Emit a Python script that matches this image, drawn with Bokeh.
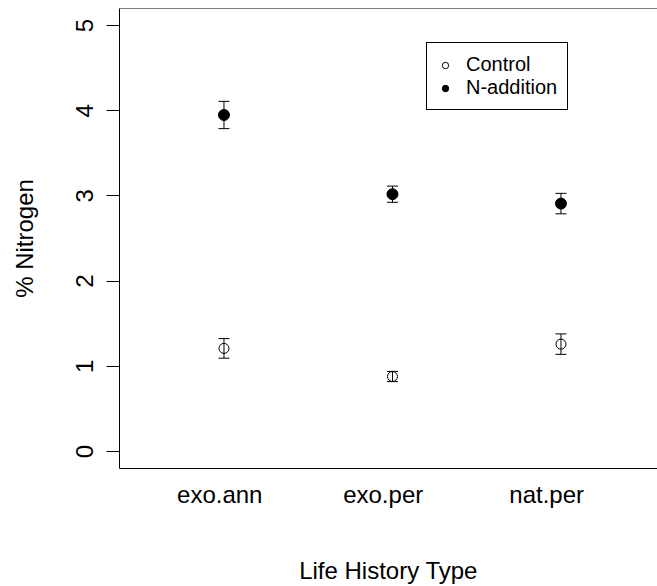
from bokeh.plotting import figure
from bokeh.models import (ColumnDataSource, Range1d, FixedTicker, Whisker, TeeHead,
                          Legend, LegendItem, Span)
from bokeh.embed import file_html
from bokeh.resources import INLINE

# ---- data ----
categories = ["exo.ann", "exo.per", "nat.per"]
control_mean = [1.21, 0.88, 1.26]
control_se = [0.115, 0.06, 0.12]
nadd_mean = [3.95, 3.02, 2.91]
nadd_se = [0.16, 0.095, 0.12]
y_ticks = [0, 1, 2, 3, 4, 5]
series_names = ["Control", "N-addition"]

FONT = "Liberation Sans"
xpos = list(range(1, len(categories) + 1))


def make_source(mean, se):
    return ColumnDataSource(dict(
        x=xpos, y=mean,
        lower=[m - s for m, s in zip(mean, se)],
        upper=[m + s for m, s in zip(mean, se)],
    ))


src_c = make_source(control_mean, control_se)
src_n = make_source(nadd_mean, nadd_se)

y_lo, y_hi = -0.2, 5.2
x_lo = 0.38
x_hi = x_lo + 538 / 168.5

p = figure(width=657, height=586,
           x_range=Range1d(x_lo, x_hi), y_range=Range1d(y_lo, y_hi),
           output_backend="svg", toolbar_location=None,
           min_border_left=119, min_border_right=0,
           min_border_top=8, min_border_bottom=118)
p.outline_line_color = None
p.grid.visible = False
p.background_fill_color = "white"
p.border_fill_color = "white"

# top frame line
p.add_layout(Span(location=y_hi, dimension="width", line_color="black", line_width=1))

# x axis
label_shift = [-0.025, -0.055, -0.085]
label_x = [xv + d for xv, d in zip(xpos, label_shift)]
xa = p.xaxis[0]
xa.ticker = FixedTicker(ticks=label_x)
xa.major_label_overrides = {lx: c for lx, c in zip(label_x, categories)}
xa.major_tick_out = 0
xa.major_tick_in = 0
xa.minor_tick_out = 0
xa.minor_tick_in = 0
xa.axis_line_color = "black"
xa.major_label_standoff = 12
xa.major_label_text_font = FONT
xa.major_label_text_font_size = "24px"
xa.major_label_text_color = "black"
xa.axis_label = "Life History Type"
xa.axis_label_text_font = FONT
xa.axis_label_text_font_size = "24px"
xa.axis_label_text_font_style = "normal"
xa.axis_label_text_color = "black"
xa.axis_label_standoff = 46

# y axis
ya = p.yaxis[0]
ya.ticker = FixedTicker(ticks=y_ticks)
ya.major_label_orientation = "vertical"
ya.major_tick_out = 13
ya.major_tick_in = 0
ya.minor_tick_out = 0
ya.minor_tick_in = 0
ya.major_tick_line_color = "black"
ya.axis_line_color = "black"
ya.major_label_standoff = 13
ya.major_label_text_font = FONT
ya.major_label_text_font_size = "24px"
ya.major_label_text_color = "black"
ya.axis_label = "% Nitrogen"
ya.axis_label_text_font = FONT
ya.axis_label_text_font_size = "24px"
ya.axis_label_text_font_style = "normal"
ya.axis_label_text_color = "black"
ya.axis_label_standoff = 36

# error bars
for s in (src_c, src_n):
    p.add_layout(Whisker(base="x", lower="lower", upper="upper", source=s,
                         dimension="height", line_color="black", line_width=1,
                         upper_head=TeeHead(size=11, line_color="black", line_width=1),
                         lower_head=TeeHead(size=11, line_color="black", line_width=1)))

r_c = p.scatter("x", "y", source=src_c, marker="circle", size=10,
                fill_color=None, line_color="black", line_width=1)
r_n = p.scatter("x", "y", source=src_n, marker="circle", size=11,
                fill_color="black", line_color="black", line_width=1)

legend = Legend(items=[LegendItem(label=series_names[0], renderers=[r_c]),
                       LegendItem(label=series_names[1], renderers=[r_n])],
                location=(307, 358))
legend.label_text_font = FONT
legend.label_text_font_size = "20px"
legend.label_text_color = "black"
legend.border_line_color = "black"
legend.border_line_width = 1
legend.border_line_alpha = 1
legend.background_fill_color = "white"
legend.background_fill_alpha = 1
legend.padding = 10
legend.spacing = 0
legend.margin = 0
legend.glyph_width = 16
legend.glyph_height = 20
legend.label_height = 20
legend.label_standoff = 13
p.add_layout(legend)

open("out.html", "w").write(file_html(p, INLINE))
